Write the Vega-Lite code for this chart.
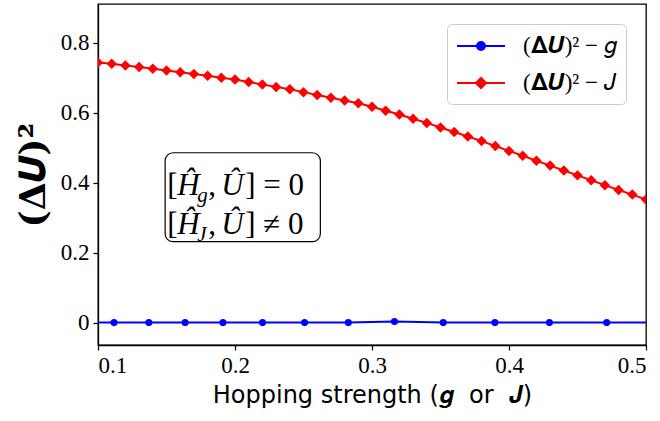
{
  "$schema": "https://vega.github.io/schema/vega-lite/v6.json",
  "width": 548,
  "height": 341,
  "autosize": "none",
  "padding": {"left": 98, "top": 4, "right": 14, "bottom": 76},
  "background": "white",
  "config": {
    "view": {"stroke": "black", "strokeWidth": 1.3},
    "axis": {
      "grid": false,
      "domainColor": "black",
      "domainWidth": 1.3,
      "tickColor": "black",
      "tickWidth": 1.2,
      "tickSize": 5,
      "labelColor": "black",
      "titleColor": "black",
      "labelFont": "Liberation Serif",
      "labelFontSize": 23
    },
    "legend": {
      "fillColor": "white",
      "strokeColor": "#cccccc",
      "cornerRadius": 5,
      "padding": 9,
      "labelFont": "Liberation Serif",
      "labelFontSize": 23,
      "labelColor": "black",
      "labelLimit": 400,
      "symbolStrokeWidth": 2
    }
  },
  "datasets": {
    "curves": [
      {"s": "g", "x": 0.088, "y": 0},
      {"s": "g", "x": 0.1117, "y": 0},
      {"s": "g", "x": 0.1371, "y": 0},
      {"s": "g", "x": 0.1636, "y": 0},
      {"s": "g", "x": 0.1912, "y": 0},
      {"s": "g", "x": 0.2201, "y": 0},
      {"s": "g", "x": 0.2508, "y": 0},
      {"s": "g", "x": 0.2827, "y": 0},
      {"s": "g", "x": 0.3164, "y": 0.003},
      {"s": "g", "x": 0.352, "y": 0},
      {"s": "g", "x": 0.3897, "y": 0},
      {"s": "g", "x": 0.4295, "y": 0},
      {"s": "g", "x": 0.4713, "y": 0},
      {"s": "g", "x": 0.515, "y": 0},
      {"s": "J", "x": 0.10, "y": 0.744},
      {"s": "J", "x": 0.11, "y": 0.740},
      {"s": "J", "x": 0.12, "y": 0.735},
      {"s": "J", "x": 0.13, "y": 0.731},
      {"s": "J", "x": 0.14, "y": 0.726},
      {"s": "J", "x": 0.15, "y": 0.721},
      {"s": "J", "x": 0.16, "y": 0.716},
      {"s": "J", "x": 0.17, "y": 0.711},
      {"s": "J", "x": 0.18, "y": 0.706},
      {"s": "J", "x": 0.19, "y": 0.700},
      {"s": "J", "x": 0.20, "y": 0.695},
      {"s": "J", "x": 0.21, "y": 0.688},
      {"s": "J", "x": 0.22, "y": 0.681},
      {"s": "J", "x": 0.23, "y": 0.674},
      {"s": "J", "x": 0.24, "y": 0.667},
      {"s": "J", "x": 0.25, "y": 0.659},
      {"s": "J", "x": 0.26, "y": 0.651},
      {"s": "J", "x": 0.27, "y": 0.643},
      {"s": "J", "x": 0.28, "y": 0.635},
      {"s": "J", "x": 0.29, "y": 0.627},
      {"s": "J", "x": 0.30, "y": 0.617},
      {"s": "J", "x": 0.31, "y": 0.606},
      {"s": "J", "x": 0.32, "y": 0.595},
      {"s": "J", "x": 0.33, "y": 0.583},
      {"s": "J", "x": 0.34, "y": 0.571},
      {"s": "J", "x": 0.35, "y": 0.558},
      {"s": "J", "x": 0.36, "y": 0.545},
      {"s": "J", "x": 0.37, "y": 0.532},
      {"s": "J", "x": 0.38, "y": 0.519},
      {"s": "J", "x": 0.39, "y": 0.505},
      {"s": "J", "x": 0.40, "y": 0.491},
      {"s": "J", "x": 0.41, "y": 0.477},
      {"s": "J", "x": 0.42, "y": 0.463},
      {"s": "J", "x": 0.43, "y": 0.449},
      {"s": "J", "x": 0.44, "y": 0.435},
      {"s": "J", "x": 0.45, "y": 0.421},
      {"s": "J", "x": 0.46, "y": 0.407},
      {"s": "J", "x": 0.47, "y": 0.393},
      {"s": "J", "x": 0.48, "y": 0.379},
      {"s": "J", "x": 0.49, "y": 0.366},
      {"s": "J", "x": 0.50, "y": 0.352}
    ],
    "box": [{"x": 0.149, "x2": 0.2623, "y": 0.2314, "y2": 0.4857}],
    "notes": [
      {"x": 0.1505, "y": 0.366, "open": "[", "H": "Ĥ", "sub": "g", "comma": ",", "U": "Û", "close": "] = 0"},
      {"x": 0.1505, "y": 0.252, "open": "[", "H": "Ĥ", "sub": "J", "comma": ",", "U": "Û", "close": "] ≠ 0"}
    ]
  },
  "encoding": {
    "x": {
      "field": "x",
      "type": "quantitative",
      "scale": {"domain": [0.1, 0.5], "nice": false, "zero": false},
      "axis": {
        "values": [0.1, 0.2, 0.3, 0.4, 0.5],
        "format": ".1f",
        "labelFont": "Liberation Serif",
        "labelFontSize": 23,
        "labelPadding": 4,
        "title": "Hopping strength (𝒈\u00a0 or\u00a0 𝑱)",
        "titleFont": "DejaVu Sans",
        "titleFontSize": 24,
        "titleFontWeight": "normal",
        "titlePadding": 6
      }
    },
    "y": {
      "field": "y",
      "type": "quantitative",
      "scale": {"domain": [-0.064, 0.911], "nice": false, "zero": false},
      "axis": {
        "values": [0, 0.2, 0.4, 0.6, 0.8],
        "format": "~g",
        "labelFont": "Liberation Serif",
        "labelFontSize": 23,
        "labelPadding": 4,
        "title": "(𝚫𝑼)²",
        "titleFont": "DejaVu Serif",
        "titleFontSize": 36,
        "titleFontWeight": "bold",
        "titlePadding": 8
      }
    }
  },
  "layer": [
    {
      "data": {"name": "box"},
      "mark": {"type": "rect", "fill": "white", "stroke": "black", "strokeWidth": 1.2, "cornerRadius": 8},
      "encoding": {"x2": {"field": "x2"}, "y2": {"field": "y2"}}
    },
    {
      "data": {"name": "notes"},
      "mark": {"type": "text", "align": "left", "baseline": "alphabetic", "font": "Liberation Serif", "fontSize": 31, "color": "black", "dx": 0},
      "encoding": {"text": {"field": "open"}}
    },
    {
      "data": {"name": "notes"},
      "mark": {"type": "text", "align": "left", "baseline": "alphabetic", "font": "Liberation Serif", "fontSize": 31, "fontStyle": "italic", "color": "black", "dx": 10},
      "encoding": {"text": {"field": "H"}}
    },
    {
      "data": {"name": "notes"},
      "mark": {"type": "text", "align": "left", "baseline": "alphabetic", "font": "Liberation Serif", "fontSize": 21, "fontStyle": "italic", "color": "black", "dx": 30, "dy": 7},
      "encoding": {"text": {"field": "sub"}}
    },
    {
      "data": {"name": "notes"},
      "mark": {"type": "text", "align": "left", "baseline": "alphabetic", "font": "Liberation Serif", "fontSize": 31, "color": "black", "dx": 41},
      "encoding": {"text": {"field": "comma"}}
    },
    {
      "data": {"name": "notes"},
      "mark": {"type": "text", "align": "left", "baseline": "alphabetic", "font": "Liberation Serif", "fontSize": 31, "fontStyle": "italic", "color": "black", "dx": 54},
      "encoding": {"text": {"field": "U"}}
    },
    {
      "data": {"name": "notes"},
      "mark": {"type": "text", "align": "left", "baseline": "alphabetic", "font": "Liberation Serif", "fontSize": 31, "color": "black", "dx": 78},
      "encoding": {"text": {"field": "close"}}
    },
    {
      "data": {"name": "curves"},
      "transform": [{"filter": "datum.s === 'J'"}],
      "mark": {"type": "line", "strokeWidth": 2, "clip": true, "color": "#ff0000"},
      "encoding": {"order": {"field": "x", "type": "quantitative"}}
    },
    {
      "data": {"name": "curves"},
      "transform": [{"filter": "datum.s === 'J'"}],
      "mark": {"type": "point", "shape": "diamond", "filled": true, "opacity": 1, "size": 110, "color": "#ff0000", "clip": true},
      "encoding": {}
    },
    {
      "data": {"name": "curves"},
      "transform": [{"filter": "datum.s === 'g'"}],
      "mark": {"type": "line", "strokeWidth": 2, "clip": true, "color": "#0000ff"},
      "encoding": {"order": {"field": "x", "type": "quantitative"}}
    },
    {
      "data": {"name": "curves"},
      "transform": [{"filter": "datum.s === 'g'"}],
      "mark": {"type": "point", "shape": "circle", "filled": true, "opacity": 1, "size": 50, "color": "#0000ff", "clip": true},
      "encoding": {}
    },
    {
      "data": {"name": "curves"},
      "transform": [{"filter": "datum.x > 1"}],
      "mark": {"type": "point", "strokeWidth": 2, "opacity": 1, "size": 576},
      "encoding": {
        "fill": {
          "field": "s", "type": "nominal",
          "scale": {"domain": ["g", "J"], "range": ["#0000ff", "#ff0000"]},
          "legend": {"title": null, "orient": "top-right", "offset": 20, "symbolSize": 576, "labelOffset": 41, "rowPadding": 12,
            "labelExpr": "datum.value === 'g' ? '(𝚫𝑼)² − 𝑔' : '(𝚫𝑼)² − 𝐽'"}
        },
        "stroke": {
          "field": "s", "type": "nominal",
          "scale": {"domain": ["g", "J"], "range": ["#0000ff", "#ff0000"]},
          "legend": {"title": null, "orient": "top-right", "offset": 20, "symbolSize": 576, "labelOffset": 41, "rowPadding": 12,
            "labelExpr": "datum.value === 'g' ? '(𝚫𝑼)² − 𝑔' : '(𝚫𝑼)² − 𝐽'"}
        },
        "shape": {
          "field": "s", "type": "nominal",
          "scale": {"domain": ["g", "J"], "range": ["M-1,0H3M0.67,0A0.33,0.33,0,1,0,1.33,0A0.33,0.33,0,1,0,0.67,0Z", "M-1,0H3M1,-0.42L1.42,0L1,0.42L0.58,0Z"]},
          "legend": {"title": null, "orient": "top-right", "offset": 20, "symbolSize": 576, "labelOffset": 41, "rowPadding": 12,
            "labelExpr": "datum.value === 'g' ? '(𝚫𝑼)² − 𝑔' : '(𝚫𝑼)² − 𝐽'"}
        }
      }
    }
  ]
}
